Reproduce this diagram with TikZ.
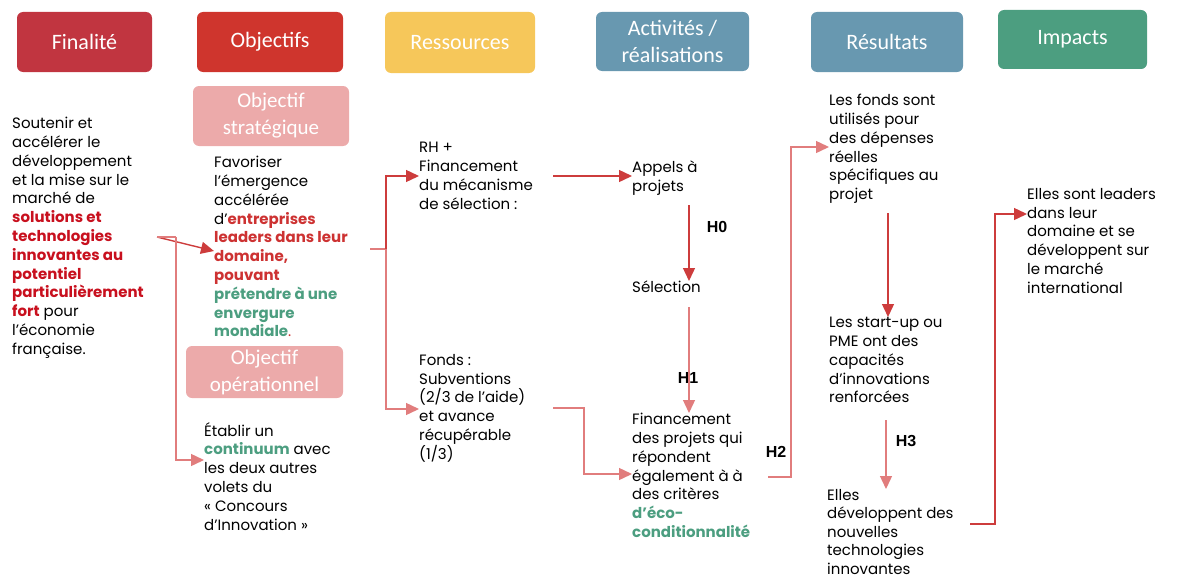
\documentclass[tikz,border=0pt]{standalone}
\usepackage{fontspec}
\setmainfont{Poppins}
\newfontfamily\hdfont{Carlito}
\newfontfamily\hlabfont{Liberation Sans}
\usetikzlibrary{arrows.meta}

\definecolor{finred}{RGB}{193,53,64}
\definecolor{objred}{RGB}{207,53,45}
\definecolor{resyel}{RGB}{246,199,90}
\definecolor{actblue}{RGB}{104,152,176}
\definecolor{impgreen}{RGB}{76,158,128}
\definecolor{subpink}{RGB}{236,170,170}
\definecolor{txtred}{RGB}{200,16,30}
\definecolor{txtred2}{RGB}{205,50,50}
\definecolor{txtgreen}{RGB}{76,158,128}
\definecolor{arrred}{RGB}{205,60,60}
\definecolor{arrpink}{RGB}{225,125,125}

\newcommand{\rbf}[1]{\textbf{\color{txtred}#1}}
\newcommand{\obf}[1]{\textbf{\color{txtred2}#1}}
\newcommand{\gbf}[1]{\textbf{\color{txtgreen}#1}}

\tikzset{
  hdr/.style={rounded corners=6pt, inner sep=0pt, text=white, align=center,
    font=\hdfont\fontsize{22}{27}\selectfont},
  subhdr/.style={rounded corners=6pt, inner sep=0pt, text=white, align=center,
    fill=subpink, font=\hdfont\fontsize{21}{27}\selectfont},
  body/.style={anchor=north west, inner sep=0pt, align=left,
    font=\fontsize{15}{18.8}\selectfont},
  hlab/.style={font=\hlabfont\bfseries\fontsize{16}{16}\selectfont, inner sep=0pt},
  arr/.style={draw=arrred, line width=1.4pt, -{Triangle[length=13pt,width=12pt]}},
  arrl/.style={draw=arrpink, line width=1.4pt, -{Triangle[length=13pt,width=12pt]}},
  seg/.style={draw=arrpink, line width=2pt}
}

\begin{document}
\begin{tikzpicture}[x=1pt,y=-1pt]
\path[use as bounding box] (0,0) rectangle (1204,578);

% column headers
\node[hdr, fill=finred,   minimum width=135pt, minimum height=60pt] (hFin) at (84.5,42) {Finalité};
\node[hdr, fill=objred,   minimum width=146pt, minimum height=60pt] (hObj) at (270,42) {Objectifs};
\node[hdr, fill=resyel,   minimum width=150pt, minimum height=61pt] (hRes) at (460,42.5) {Ressources};
\node[hdr, fill=actblue,  minimum width=153pt, minimum height=59pt] (hAct) at (672.5,41.5) {Activités /\\réalisations};
\node[hdr, fill=actblue,  minimum width=152pt, minimum height=60pt] (hRslt) at (887,42) {Résultats};
\node[hdr, fill=impgreen, minimum width=149pt, minimum height=59pt] (hImp) at (1072.5,39.5) {Impacts};

% objective sub-headers
\node[subhdr, minimum width=156pt, minimum height=60pt] (sStrat) at (271,116) {Objectif\\stratégique};
\node[subhdr, minimum width=157pt, minimum height=52pt] (sOper) at (264.5,372) {Objectif\\opérationnel};

% texts
\node[body] (tFin) at (12,117) {Soutenir et\\accélérer le\\développement\\et la mise sur le\\marché de\\
\rbf{solutions et}\\\rbf{technologies}\\\rbf{innovantes au}\\\rbf{potentiel}\\\rbf{particulièrement}\\
\rbf{fort} pour\\l’économie\\française.};

\node[body] (tStrat) at (214,156) {Favoriser\\l’émergence\\accélérée\\d’\obf{entreprises}\\\obf{leaders dans leur}\\
\obf{domaine,}\\\obf{pouvant}\\\gbf{prétendre à une}\\\gbf{envergure}\\\gbf{mondiale}{\color{txtred2}.}};

\node[body] (tOper) at (204,422) {Établir un\\\gbf{continuum} avec\\les deux autres\\volets du\\« Concours\\d’Innovation »};

\node[body] (tRH) at (419,142) {RH +\\Financement\\du mécanisme\\de sélection :};
\node[body] (tFonds) at (419,354) {Fonds :\\Subventions\\(2/3 de l’aide)\\et avance\\récupérable\\(1/3)};

\node[body] (tAppels) at (632,161) {Appels à\\projets};
\node[body] (tSel) at (632,281) {Sélection};
\node[body] (tFinanc) at (632,413) {Financement\\des projets qui\\répondent\\également à à\\des critères\\
\gbf{d’éco-}\\\gbf{conditionnalité}};

\node[body] (tUtil) at (829,94) {Les fonds sont\\utilisés pour\\des dépenses\\réelles\\spécifiques au\\projet};
\node[body] (tCap) at (829,317) {Les start-up ou\\PME ont des\\capacités\\d’innovations\\renforcées};
\node[body, font=\fontsize{15}{18.5}\selectfont] (tDev) at (827,489) {Elles\\développent des\\nouvelles\\technologies\\innovantes};

\node[body] (tImp) at (1027,188) {Elles sont leaders\\dans leur\\domaine et se\\développent sur\\le marché\\international};

% hypothesis labels
\node[hlab] (H0) at (717,227) {H0};
\node[hlab] (H1) at (688,378) {H1};
\node[hlab] (H2) at (776,452) {H2};
\node[hlab] (H3) at (906,441) {H3};

% connector joints
\coordinate (finOut) at (157,237);
\coordinate (finBus) at (176,237);
\coordinate (finBusLow) at (176,460);
\coordinate (resIn) at (370,249);
\coordinate (resBus) at (386,249);
\coordinate (resBusTop) at (386,176);
\coordinate (resBusLow) at (386,409);
\coordinate (rhOut) at (553,176);
\coordinate (fondsOut) at (553,408);
\coordinate (fondsBend) at (584,408);
\coordinate (fondsBendLow) at (584,474);
\coordinate (appOut) at (689,205);
\coordinate (selOut) at (689,307);
\coordinate (finOutR) at (768,477);
\coordinate (finBendR) at (791,477);
\coordinate (finBendTop) at (791,147);
\coordinate (utilOut) at (888,213);
\coordinate (capOut) at (886,420);
\coordinate (devOut) at (970,524);
\coordinate (devBend) at (995,524);
\coordinate (devBendTop) at (995,214);

% finalité -> objectives
\draw[arrl, draw=arrred] (finOut) -- (tStrat.west |- 0,251);
\draw[seg, line width=1.4pt] (finOut) -- (finBus);
\draw[arrl] (finBus) -- (finBusLow) -- (tOper.west |- finBusLow);

% objectives -> resources
\draw[seg] (resIn) -- (resBus);
\draw[arr] (resBus) -- (resBusTop) -- (tRH.west |- resBusTop);
\draw[arrl] (resBus) -- (resBusLow) -- (tFonds.west |- resBusLow);

% resources -> activities
\draw[arr] (rhOut) -- (tAppels.west |- rhOut);
\draw[arrl] (fondsOut) -- (fondsBend) -- (fondsBendLow) -- (tFinanc.west |- fondsBendLow);
\draw[arr] (appOut) -- (appOut |- tSel.north);
\draw[arrl] (selOut) -- (selOut |- tFinanc.north);

% activities -> results -> impacts
\draw[arrl] (finOutR) -- (finBendR) -- (finBendTop) -- (tUtil.west |- finBendTop);
\draw[arr] (utilOut) -- (utilOut |- tCap.north);
\draw[arrl] (capOut) -- (capOut |- tDev.north);
\draw[arrl, draw=arrred] (devOut) -- (devBend) -- (devBendTop) -- (tImp.west |- devBendTop);
\end{tikzpicture}
\end{document}
